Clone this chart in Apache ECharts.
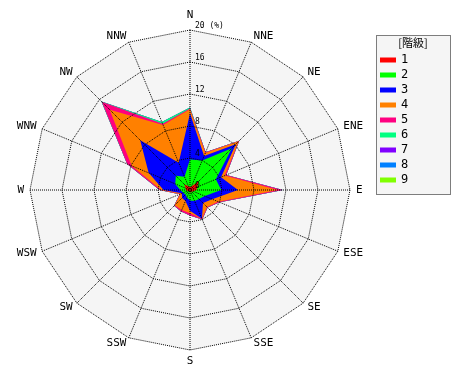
<!DOCTYPE html>
<html><head><meta charset="utf-8">
<script src="https://cdn.jsdelivr.net/npm/echarts@6/dist/echarts.min.js"></script>
<style>html,body{margin:0;padding:0;background:#fff}#c{width:470px;height:380px}</style>
</head><body><div id="c"></div>
<script>
// Wind directions, clockwise from North
const directions = ['N','NNE','NE','ENE','E','ESE','SE','SSE','S','SSW','SW','WSW','W','WNW','NW','NNW'];
const classNames = ['1','2','3','4','5','6','7','8','9'];
const classColors = ['#ff0000','#00ff00','#0000ff','#ff8000','#ff0080','#00ff80','#8000ff','#0080ff','#80ff00'];
const tickLabels = ['0','4','8','12','16','20 (%)'];
const axisMax = 20;
// frequency (%) per class, by direction (N..NNW clockwise)
const class1 = [0.3,0.5,1.5,1.0,0.8,0.4,0.3,0.3,0.3,0.2,0.2,0.3,0.5,0.6,1.0,0.5];
const class2 = [3.5,3.5,5.9,2.5,3.1,1.6,1.3,1.2,1.0,0.8,0.6,0.6,0.7,1.4,1.5,1.3];
const class3 = [5.8,0.6,0.7,0.7,2.1,1.0,0.7,2.4,1.3,0.5,0.6,0.2,2.1,3.6,6.3,1.9];
const class4 = [0.5,0.4,0.5,0.5,5.0,0.8,0.7,0.0,0.3,1.2,1.3,0.2,0.3,2.3,5.4,5.1];
const class5 = [0.1,0.1,0.1,0.2,0.6,0.2,0.1,0.1,0.3,0.2,0.1,0.1,0.2,0.6,1.4,0.15];
const class6 = [0.1,0,0,0,0,0,0,0,0,0,0,0,0,0,0.05,0.25];
const class7 = [0,0,0,0,0,0,0,0,0,0,0,0,0,0,0,0];
const class8 = [0,0,0,0,0,0,0,0,0,0,0,0,0,0,0,0];
const class9 = [0,0,0,0,0,0,0,0,0,0,0,0,0,0,0,0];
const classValues = [class1,class2,class3,class4,class5,class6,class7,class8,class9];

const FONT = 'DejaVu Sans Mono';
const DOT = [1, 1];
// radar places indicators counter-clockwise; reorder so compass goes clockwise
const radarOrder = directions.map((d, i) => (16 - i) % 16);
// cumulative (stacked) totals
const cumulative = [];
classValues.forEach((vals, k) => {
  cumulative.push(vals.map((v, i) => v + (k > 0 ? cumulative[k - 1][i] : 0)));
});
const seriesData = [];
for (let k = classNames.length - 1; k >= 0; k--) {
  seriesData.push({
    name: classNames[k],
    value: radarOrder.map(i => +cumulative[k][i].toFixed(3)),
    symbol: 'none',
    lineStyle: { width: 0, color: classColors[k] },
    itemStyle: { color: classColors[k] },
    areaStyle: { color: classColors[k], opacity: 1 }
  });
}
function makeIndicators(withLabel) {
  return radarOrder.map((i, n) => {
    const o = { name: directions[i], min: 0, max: axisMax };
    if (withLabel && n === 0) {
      o.axisLabel = {
        show: true, fontSize: 8, fontFamily: FONT, color: '#000', margin: -5,
        align: 'left', verticalAlign: 'bottom', lineHeight: 9,
        formatter: (v) => tickLabels[Math.round(v / 4)] || ''
      };
    }
    return o;
  });
}
const lineStyle = { color: '#000', type: DOT, width: 1 };
const baseRadar = { center: [190, 190], radius: 160, startAngle: 90, shape: 'polygon', splitNumber: 5 };

const chart = echarts.init(document.getElementById('c'), null, { renderer: 'canvas' });
chart.setOption({
  animation: false,
  backgroundColor: '#fff',
  graphic: [
    { type: 'rect', z: 0, shape: { x: 376.5, y: 35.5, width: 74, height: 159 },
      style: { fill: '#f5f5f5', stroke: '#000', lineWidth: 1, lineDash: [1, 1] } },
    { type: 'text', z: 1, x: 413, y: 43,
      style: { text: '[階級]', fontSize: 11, fontFamily: 'Noto Sans CJK JP', fill: '#000', align: 'center', verticalAlign: 'middle' } }
  ],
  legend: {
    orient: 'vertical', left: 380, top: 52.5, padding: 0,
    itemWidth: 16, itemHeight: 5, itemGap: 0, icon: 'rect',
    textStyle: { fontSize: 12, fontFamily: FONT, color: '#000', lineHeight: 15 },
    data: classNames, selectedMode: false
  },
  polar: { center: [190, 190], radius: 160, z: 4 },
  angleAxis: {
    type: 'category', data: directions, startAngle: 90, clockwise: true, boundaryGap: false,
    z: 4,
    axisLine: { show: false }, axisTick: { show: false }, axisLabel: { show: false },
    splitLine: { show: true, lineStyle: lineStyle }
  },
  radiusAxis: {
    type: 'value', min: 0, max: axisMax, z: 4,
    axisLine: { show: false }, axisTick: { show: false }, axisLabel: { show: false },
    splitLine: { show: false }
  },
  radar: [
    Object.assign({}, baseRadar, {
      z: 1,
      indicator: makeIndicators(false),
      axisName: { show: false },
      axisLabel: { show: false },
      axisLine: { show: false },
      splitLine: { show: false },
      splitArea: { show: true, areaStyle: { color: ['#f5f5f5'] } },
      axisTick: { show: false }
    }),
    Object.assign({}, baseRadar, {
      z: 5,
      indicator: makeIndicators(true),
      axisName: { color: '#000', fontSize: 11, fontFamily: FONT },
      nameGap: 6,
      axisLabel: { show: false },
      axisLine: { show: false },
      splitLine: { show: true, lineStyle: lineStyle },
      splitArea: { show: false },
      axisTick: { show: false }
    })
  ],
  series: [{ type: 'radar', radarIndex: 0, silent: true, data: seriesData, z: 2 }]
});
</script></body></html>
